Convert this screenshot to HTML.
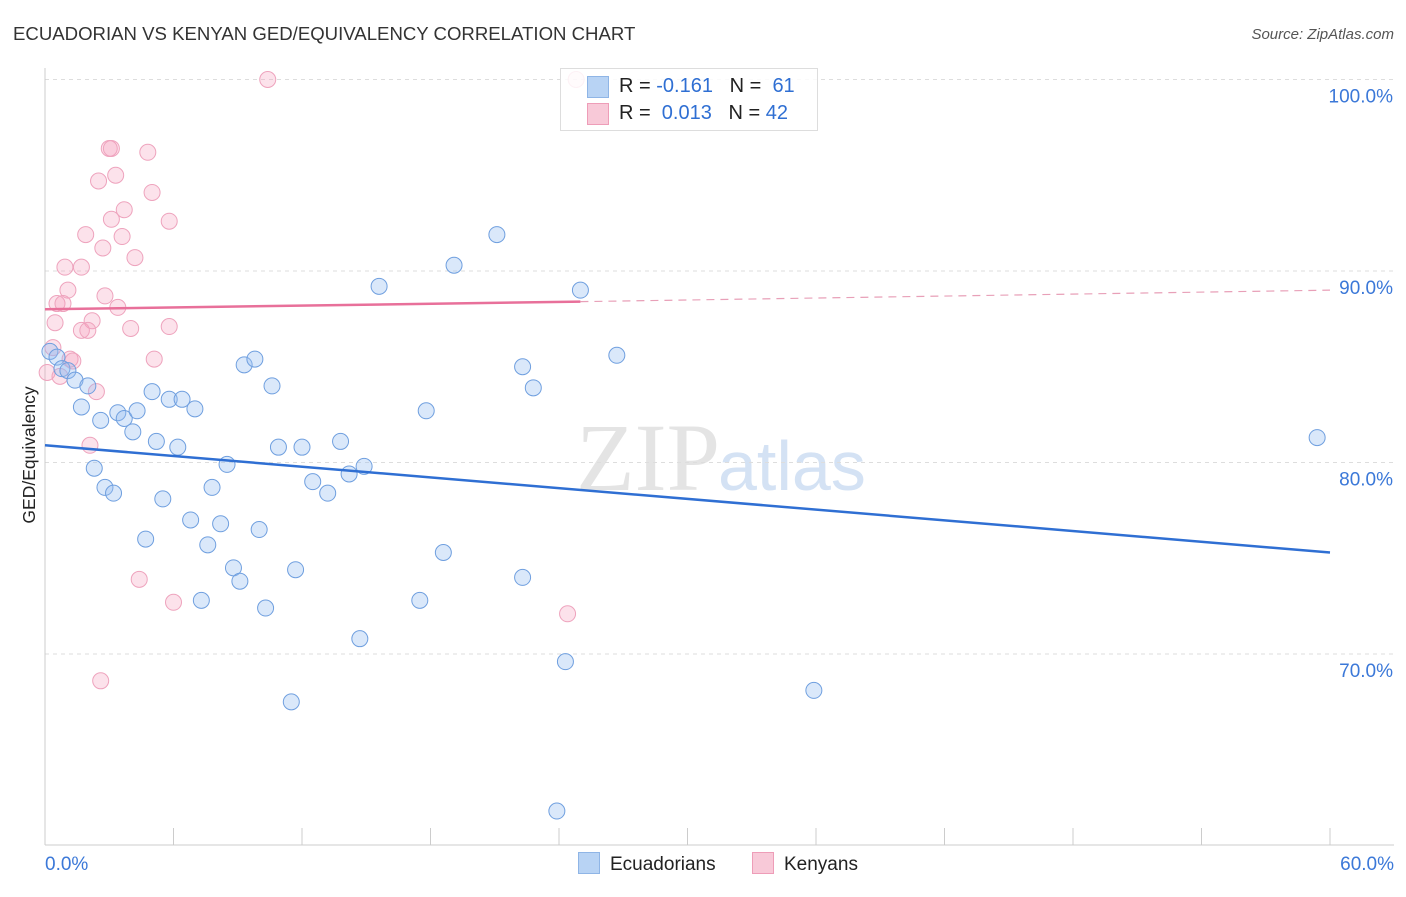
<!DOCTYPE html>
<html><head><meta charset="utf-8"><style>
body{margin:0;background:#fff;font-family:"Liberation Sans",sans-serif}
#wrap{position:relative;width:1406px;height:892px}
</style></head><body>
<div id="wrap">
<svg id="svg" width="1406" height="892" xmlns="http://www.w3.org/2000/svg">
<text x="13" y="40" font-size="18.6" fill="#333">ECUADORIAN VS KENYAN GED/EQUIVALENCY CORRELATION CHART</text>
<text x="1394" y="39" font-size="15" fill="#555" font-style="italic" text-anchor="end">Source: ZipAtlas.com</text>
<text x="35" y="455" font-size="17.5" fill="#222" text-anchor="middle" transform="rotate(-90 35 455)">GED/Equivalency</text>
<text x="720" y="490" font-size="96" fill="#e4e4e4" font-family="Liberation Serif,serif" text-anchor="end">ZIP</text>
<text x="718" y="490" font-size="70" fill="#d4e2f4">atlas</text>
<g id="grid"></g><g id="marks"></g>
</svg>
<div style="position:absolute;left:560px;top:68px;width:256px;height:61px;border:1px solid #ddd;background:rgba(255,255,255,0.85);font-size:20px;color:#222">
<div style="position:absolute;left:26px;top:7px;width:20px;height:20px;background:#b8d3f4;border:1px solid #8fb5e6"></div>
<div style="position:absolute;left:58px;top:6px">R = <span style="color:#2f6fd3">-0.161</span>&nbsp;&nbsp;&nbsp;N = &nbsp;<span style="color:#2f6fd3">61</span></div>
<div style="position:absolute;left:26px;top:34px;width:20px;height:20px;background:#f8c9d8;border:1px solid #ee9db8"></div>
<div style="position:absolute;left:58px;top:33px">R = &nbsp;<span style="color:#2f6fd3">0.013</span>&nbsp;&nbsp;&nbsp;N = <span style="color:#2f6fd3">42</span></div>
</div>
<div style="position:absolute;left:578px;top:852px;font-size:19px;color:#222"><span style="display:inline-block;width:20px;height:20px;background:#b8d3f4;border:1px solid #8fb5e6;vertical-align:-4px;margin-right:10px"></span>Ecuadorians</div>
<div style="position:absolute;left:752px;top:852px;font-size:19px;color:#222"><span style="display:inline-block;width:20px;height:20px;background:#f8c9d8;border:1px solid #ee9db8;vertical-align:-4px;margin-right:10px"></span>Kenyans</div>
</div>
<script>
const yTicks=[100,90,80,70];
const yTickLabels=["100.0%","90.0%","80.0%","70.0%"];
const xTickLabels=["0.0%","60.0%"];
const blueX=[0.23,0.56,0.79,1.07,1.4,2.0,1.7,2.6,2.3,2.8,3.2,3.4,3.7,4.1,4.3,4.7,5.0,5.2,5.5,5.8,6.2,6.4,6.8,7.0,7.3,7.6,7.8,8.2,8.5,8.8,9.1,9.3,9.8,10.0,10.3,10.6,10.9,11.5,11.7,12.0,12.5,13.2,13.8,14.2,14.7,14.9,15.6,17.5,17.8,18.6,19.1,21.1,22.3,22.3,22.8,23.9,24.3,25.0,26.7,35.9,59.4];
const blueY=[85.8,85.5,84.9,84.8,84.3,84.0,82.9,82.2,79.7,78.7,78.4,82.6,82.3,81.6,82.7,76.0,83.7,81.1,78.1,83.3,80.8,83.3,77.0,82.8,72.8,75.7,78.7,76.8,79.9,74.5,73.8,85.1,85.4,76.5,72.4,84.0,80.8,67.5,74.4,80.8,79.0,78.4,81.1,79.4,70.8,79.8,89.2,72.8,82.7,75.3,90.3,91.9,74.0,85.0,83.9,61.8,69.6,89.0,85.6,68.1,81.3];
const pinkX=[10.4,24.8,3.0,3.1,4.8,3.3,2.5,5.0,3.7,3.1,5.8,1.9,3.6,2.7,4.2,0.93,1.7,1.07,2.8,0.56,0.84,3.4,2.2,0.47,1.7,2.0,4.0,5.8,0.37,1.17,1.3,5.1,0.1,0.7,2.4,2.1,4.4,6.0,24.4,2.6];
const pinkY=[100,100,96.4,96.4,96.2,95.0,94.7,94.1,93.2,92.7,92.6,91.9,91.8,91.2,90.7,90.2,90.2,89.0,88.7,88.3,88.3,88.1,87.4,87.3,86.9,86.9,87.0,87.1,86.0,85.4,85.3,85.4,84.7,84.5,83.7,80.9,73.9,72.7,72.1,68.6];
const blueTrend=[[0,80.9],[60,75.3]];
const pinkTrend=[[0,88.0],[25,88.4],[60,89.0]];
const X=v=>45+v*1285/60, Y=v=>79.5+(100-v)*19.15;
const NS="http://www.w3.org/2000/svg";
function mk(tag,a,p){const e=document.createElementNS(NS,tag);for(const k in a)e.setAttribute(k,a[k]);p.appendChild(e);return e;}
const g=document.getElementById('grid'),m=document.getElementById('marks');
yTicks.forEach((t,i)=>{
 const l=mk('line',{x1:45,x2:1394,y1:Y(t),y2:Y(t),stroke:'#ddd','stroke-dasharray':'4,4'},g);
 
 const tx=mk('text',{x:1393,y:Y(t)+23,'font-size':19,fill:'#3b78d8','text-anchor':'end'},g);tx.textContent=yTickLabels[i];
 
});
const ax=mk('line',{x1:45,x2:45,y1:68,y2:845,stroke:'#ccc'},g);

const bx=mk('line',{x1:45,x2:1394,y1:845,y2:845,stroke:'#ccc'},g);

for(let i=0;i<=10;i++){const t=mk('line',{x1:X(i*6),x2:X(i*6),y1:828,y2:845,stroke:'#ccc'},g);
 }
[[0,'start',45],[60,'end',1394]].forEach((d,i)=>{const t=mk('text',{x:d[2],y:870,'font-size':19,fill:'#3b78d8','text-anchor':d[1]},g);t.textContent=xTickLabels[i];
 });
pinkX.forEach((x,i)=>{const c=mk('circle',{cx:X(x),cy:Y(pinkY[i]),r:8,fill:'rgba(244,160,190,0.3)',stroke:'#eea3bd','stroke-width':1},m);
 });
blueX.forEach((x,i)=>{const c=mk('circle',{cx:X(x),cy:Y(blueY[i]),r:8,fill:'rgba(150,190,240,0.35)',stroke:'#6f9fdf','stroke-width':1},m);
 });
const bl=mk('line',{x1:X(blueTrend[0][0]),y1:Y(blueTrend[0][1]),x2:X(blueTrend[1][0]),y2:Y(blueTrend[1][1]),stroke:'#2f6fd3','stroke-width':2.5},m);

const pl=mk('line',{x1:X(pinkTrend[0][0]),y1:Y(pinkTrend[0][1]),x2:X(pinkTrend[1][0]),y2:Y(pinkTrend[1][1]),stroke:'#e8709a','stroke-width':2.5},m);

const pd=mk('line',{x1:X(pinkTrend[1][0]),y1:Y(pinkTrend[1][1]),x2:X(pinkTrend[2][0]),y2:Y(pinkTrend[2][1]),stroke:'#e8a0b8','stroke-width':1.2,'stroke-dasharray':'8,6'},m);

</script>
</body></html>
